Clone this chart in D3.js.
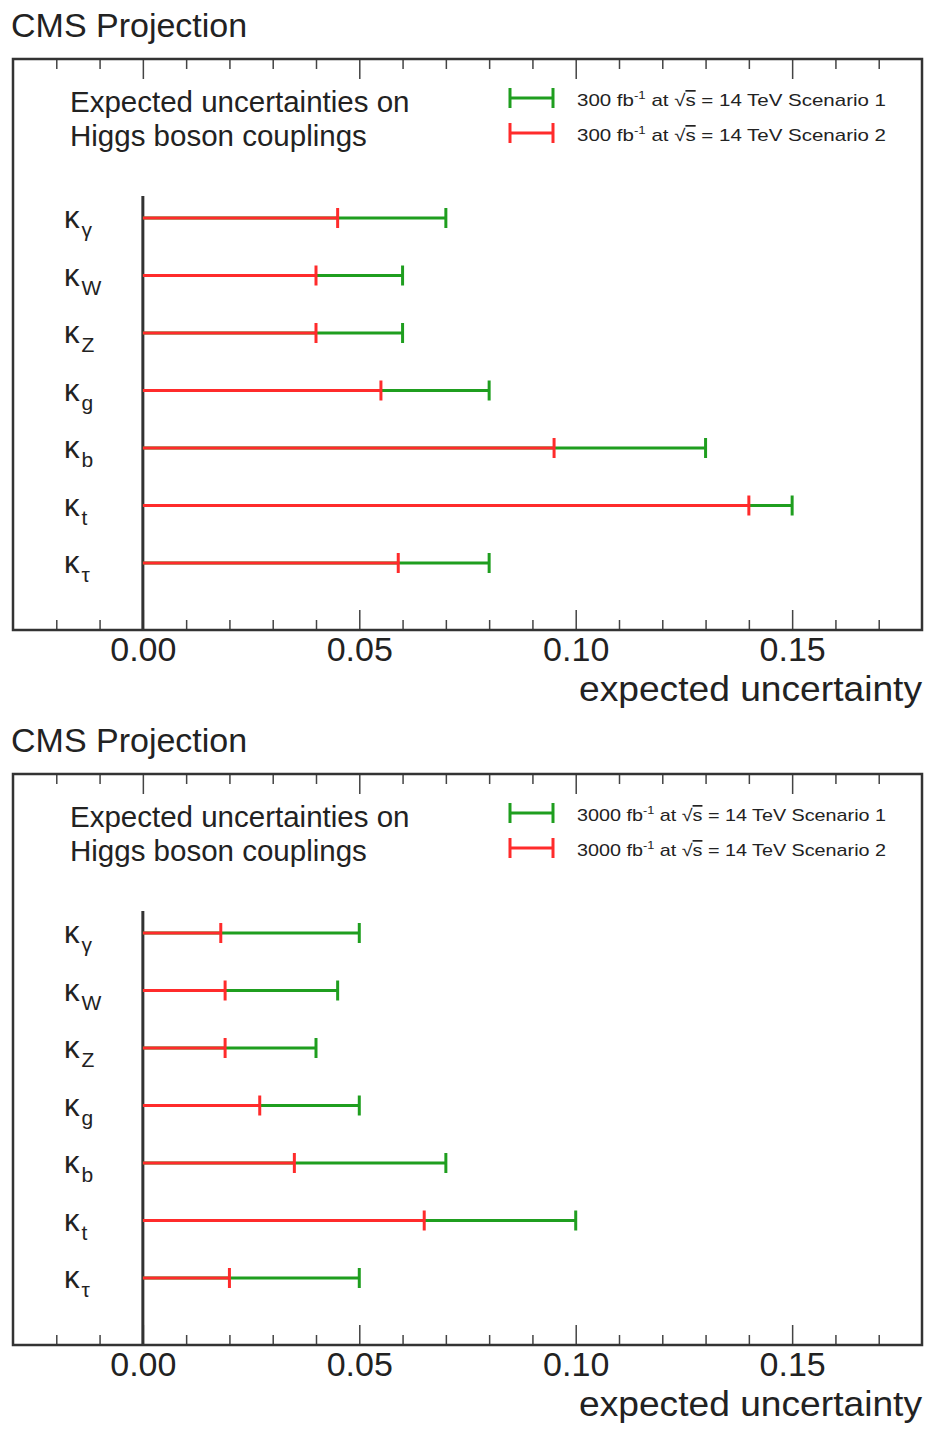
<!DOCTYPE html>
<html>
<head>
<meta charset="utf-8">
<script src="https://cdn.jsdelivr.net/npm/d3@7"></script>
<style>
  body { margin: 0; background: #fff; }
  svg { display: block; font-family: "Liberation Sans", Arial, sans-serif; }
</style>
</head>
<body>
<script>
// couplings (subscript of kappa)
const categories = ["γ", "W", "Z", "g", "b", "t", "τ"]

// 300 fb-1
const scen1_300 = [0.07, 0.06, 0.06, 0.08, 0.13, 0.15, 0.08]
const scen2_300 = [0.045, 0.04, 0.04, 0.055, 0.095, 0.14, 0.059]
// 3000 fb-1
const scen1_3000 = [0.05, 0.045, 0.04, 0.05, 0.07, 0.10, 0.05]
const scen2_3000 = [0.018, 0.019, 0.019, 0.027, 0.035, 0.065, 0.02]

const majorTicks = [0.00, 0.05, 0.10, 0.15]
const minorTicks = [-0.02, -0.01, 0.01, 0.02, 0.03, 0.04, 0.06, 0.07, 0.08, 0.09,
                    0.11, 0.12, 0.13, 0.14, 0.16, 0.17]

const w = 934
const h = 1430
const green = "#1f9e1f"
const red = "#ff2b2b"
const ink = "#222"

const svg = d3.select("body").append("svg")
    .attr("width", w)
    .attr("height", h)

const x = d3.scaleLinear().domain([-0.03, 0.18]).range([13, 922])

const panels = [
    {lumi: "300", s1: scen1_300, s2: scen2_300, dy: 0},
    {lumi: "3000", s1: scen1_3000, s2: scen2_3000, dy: 715}
]

panels.forEach(function(p) {
    const g = svg.append("g").attr("transform", "translate(0," + p.dy + ")")
    const top = 59, bottom = 630

    const y = d3.scalePoint().domain(categories).range([218, 563])

    g.append("text")
        .attr("x", 11).attr("y", 37)
        .attr("font-size", 34).attr("fill", ink)
        .text("CMS Projection")

    // ticks bottom
    const axB = g.append("g").attr("transform", "translate(0," + bottom + ")")
        .call(d3.axisBottom(x).tickValues(majorTicks).tickSize(-20).tickPadding(7)
            .tickFormat(d3.format(".2f")))
    axB.select(".domain").remove()
    axB.selectAll("text").attr("font-size", 34).attr("fill", ink)
        .attr("font-family", "Liberation Sans, Arial, sans-serif")
    const axBm = g.append("g").attr("transform", "translate(0," + bottom + ")")
        .call(d3.axisBottom(x).tickValues(minorTicks).tickSize(-10).tickFormat(""))
    axBm.select(".domain").remove()

    // ticks top
    const axT = g.append("g").attr("transform", "translate(0," + top + ")")
        .call(d3.axisTop(x).tickValues(majorTicks).tickSize(-20).tickFormat(""))
    axT.select(".domain").remove()
    const axTm = g.append("g").attr("transform", "translate(0," + top + ")")
        .call(d3.axisTop(x).tickValues(minorTicks).tickSize(-10).tickFormat(""))
    axTm.select(".domain").remove()
    g.selectAll(".tick line").attr("stroke", "#444").attr("stroke-width", 1.5)

    // frame
    g.append("rect")
        .attr("x", x.range()[0]).attr("y", top)
        .attr("width", x.range()[1] - x.range()[0]).attr("height", bottom - top)
        .attr("fill", "none").attr("stroke", "#333").attr("stroke-width", 2.5)

    g.append("text")
        .attr("x", 922).attr("y", 701)
        .attr("text-anchor", "end")
        .attr("font-size", 35).attr("fill", ink)
        .attr("textLength", 343).attr("lengthAdjust", "spacingAndGlyphs")
        .text("expected uncertainty")

    // header text
    g.append("text").attr("x", 70).attr("y", 112)
        .attr("font-size", 29.5).attr("fill", ink)
        .text("Expected uncertainties on")
    g.append("text").attr("x", 70).attr("y", 146)
        .attr("font-size", 29.5).attr("fill", ink)
        .text("Higgs boson couplings")

    // legend
    const leg = [{c: green, t: "Scenario 1", ly: 98}, {c: red, t: "Scenario 2", ly: 133}]
    leg.forEach(function(l) {
        g.append("line").attr("x1", 510).attr("x2", 553).attr("y1", l.ly).attr("y2", l.ly)
            .attr("stroke", l.c).attr("stroke-width", 3)
        g.selectAll(null).data([510, 553]).enter().append("line")
            .attr("x1", function(d) {return d}).attr("x2", function(d) {return d})
            .attr("y1", l.ly - 10).attr("y2", l.ly + 10)
            .attr("stroke", l.c).attr("stroke-width", 3)
        const t = g.append("text").attr("x", 577).attr("y", l.ly + 8)
            .attr("font-size", 17).attr("fill", ink)
            .attr("textLength", 309).attr("lengthAdjust", "spacingAndGlyphs")
        t.append("tspan").text(p.lumi + " fb")
        t.append("tspan").attr("dy", -7).attr("font-size", 11).text("-1")
        t.append("tspan").attr("dy", 7).text(" at  √")
        t.append("tspan").attr("text-decoration", "overline").text("s")
        t.append("tspan").text(" = 14 TeV " + l.t)
    })

    // vertical zero line
    g.append("line")
        .attr("x1", x(0)).attr("x2", x(0))
        .attr("y1", y(categories[0]) - 22).attr("y2", bottom)
        .attr("stroke", "#333").attr("stroke-width", 3)

    // bars: scenario 1 (green) below, scenario 2 (red) on top
    const series = [{vals: p.s1, c: green}, {vals: p.s2, c: red}]
    series.forEach(function(s) {
        const bars = g.append("g").selectAll("g")
            .data(categories.map(function(k, i) {return {k: k, v: s.vals[i]}}))
            .enter().append("g")
        bars.append("line")
            .attr("x1", x(0))
            .attr("x2", function(d) {return x(d.v)})
            .attr("y1", function(d) {return y(d.k)})
            .attr("y2", function(d) {return y(d.k)})
            .attr("stroke", s.c).attr("stroke-width", 3)
        bars.append("line")
            .attr("x1", function(d) {return x(d.v)})
            .attr("x2", function(d) {return x(d.v)})
            .attr("y1", function(d) {return y(d.k) - 10})
            .attr("y2", function(d) {return y(d.k) + 10})
            .attr("stroke", s.c).attr("stroke-width", 3)
    })

    // kappa labels
    const lab = g.selectAll(".klab")
        .data(categories)
        .enter().append("text")
        .attr("class", "klab")
        .attr("x", 64)
        .attr("y", function(d) {return y(d) + 10})
        .attr("fill", ink)
    lab.append("tspan").attr("font-size", 31).text("κ")
    lab.append("tspan").attr("font-size", 21).attr("dx", 2).attr("dy", 9)
        .text(function(d) {return d})
})
</script>
</body>
</html>
